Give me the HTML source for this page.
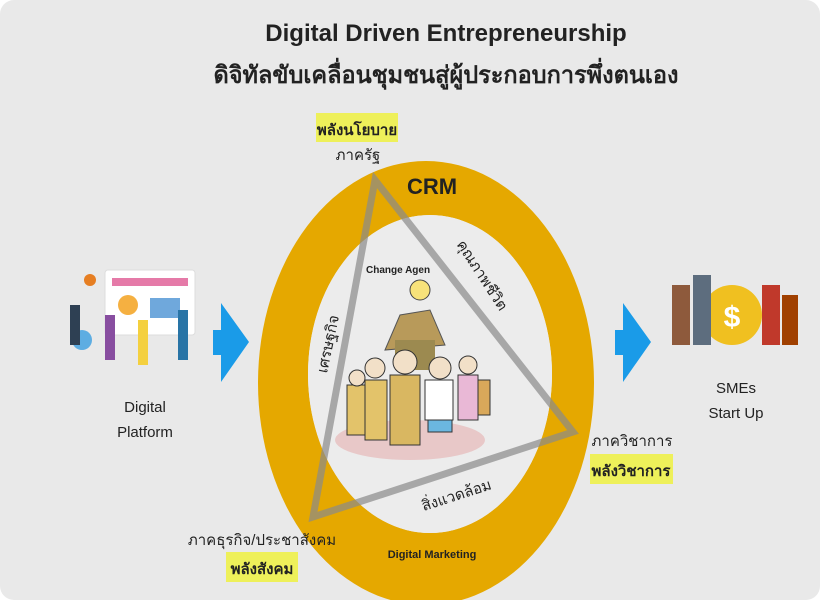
<!DOCTYPE html>
<html><head><meta charset="utf-8"><style>
html,body{margin:0;padding:0;background:#fff;}
.wrap{width:820px;height:600px;position:relative;background:#e9e9e9;border-radius:14px;overflow:hidden;font-family:"Liberation Sans","Noto Sans CJK SC",sans-serif;}
</style></head><body><div class="wrap">
<svg width="820" height="600" xmlns="http://www.w3.org/2000/svg" style="position:absolute;left:0;top:0">
<text x="446" y="41" text-anchor="middle" font-family="Liberation Sans, sans-serif" font-size="24" font-weight="bold" fill="#222">Digital Driven Entrepreneurship</text>
<text x="446" y="83" text-anchor="middle" font-family="Liberation Sans, Noto Sans CJK SC, sans-serif" font-size="24" font-weight="bold" fill="#222" textLength="465" lengthAdjust="spacingAndGlyphs">ดิจิทัลขับเคลื่อนชุมชนสู่ผู้ประกอบการพึ่งตนเอง</text>
<path fill="#e5a800" fill-rule="evenodd" d="M258,383 a168,222 0 1,0 336,0 a168,222 0 1,0 -336,0 Z M308,374 a122,159 0 1,0 244,0 a122,159 0 1,0 -244,0 Z"/>
<ellipse cx="430" cy="374" rx="122" ry="159" fill="#ececec"/>
<circle cx="420" cy="290" r="10" fill="#f7e27a" stroke="#444"/>
<path d="M385,350 L400,315 L430,310 L445,345 Z" fill="#b89a5a" stroke="#555"/>
<rect x="395" y="340" width="40" height="30" fill="#9c8a50"/>
<ellipse cx="410" cy="440" rx="75" ry="20" fill="#e8c8c8"/>
<g stroke="#333" stroke-width="1">
<rect x="347" y="385" width="20" height="50" fill="#e3c36a"/>
<rect x="365" y="380" width="22" height="60" fill="#e3c36a"/>
<rect x="390" y="375" width="30" height="70" fill="#d9b761"/>
<rect x="425" y="380" width="28" height="40" fill="#fff"/>
<rect x="428" y="420" width="24" height="12" fill="#6bb7e0"/>
<rect x="458" y="375" width="20" height="45" fill="#e9b8d6"/>
<rect x="478" y="380" width="12" height="35" fill="#d9a85a"/>
</g>
<circle cx="357" cy="378" r="8" fill="#f2e0c8" stroke="#333"/>
<circle cx="375" cy="368" r="10" fill="#f2e0c8" stroke="#333"/>
<circle cx="405" cy="362" r="12" fill="#f2e0c8" stroke="#333"/>
<circle cx="440" cy="368" r="11" fill="#f2e0c8" stroke="#333"/>
<circle cx="468" cy="365" r="9" fill="#f2e0c8" stroke="#333"/>
<polygon points="375,180 573,432 313,517" fill="none" stroke="#8a8a8a" stroke-opacity="0.7" stroke-width="7" stroke-linejoin="miter"/>
<text x="432" y="194" text-anchor="middle" font-size="22" font-weight="bold" fill="#222">CRM</text>
<text x="366" y="273" font-size="10" font-weight="bold" fill="#222">Change Agen</text>
<text x="432" y="558" text-anchor="middle" font-size="11" font-weight="bold" fill="#222">Digital Marketing</text>
<text transform="translate(333,345) rotate(-78)" text-anchor="middle" font-size="15" fill="#222">เศรษฐกิจ</text>
<text transform="translate(478,278) rotate(57)" text-anchor="middle" font-size="15" fill="#222">คุณภาพชีวิต</text>
<text transform="translate(458,500) rotate(-18)" text-anchor="middle" font-size="15" fill="#222">สิ่งแวดล้อม</text>
<rect x="316" y="113" width="82" height="29" fill="#eef05a"/>
<text x="357" y="135" text-anchor="middle" font-size="15" font-weight="bold" fill="#222">พลังนโยบาย</text>
<text x="358" y="160" text-anchor="middle" font-size="15" fill="#222">ภาครัฐ</text>
<text x="632" y="446" text-anchor="middle" font-size="15" fill="#222">ภาควิชาการ</text>
<rect x="590" y="454" width="83" height="30" fill="#eef05a"/>
<text x="631" y="476" text-anchor="middle" font-size="15" font-weight="bold" fill="#222">พลังวิชาการ</text>
<text x="262" y="545" text-anchor="middle" font-size="15" fill="#222">ภาคธุรกิจ/ประชาสังคม</text>
<rect x="226" y="552" width="72" height="30" fill="#eef05a"/>
<text x="262" y="574" text-anchor="middle" font-size="15" font-weight="bold" fill="#222">พลังสังคม</text>
<polygon points="213,330 221,330 221,303 249,342 221,382 221,355 213,355" fill="#1a9be8"/>
<polygon points="615,330 623,330 623,303 651,342 623,382 623,355 615,355" fill="#1a9be8"/>
<rect x="105" y="270" width="90" height="65" rx="3" fill="#fff" stroke="#ddd"/>
<rect x="112" y="278" width="76" height="8" fill="#e57aa8"/>
<circle cx="128" cy="305" r="10" fill="#f5b041"/>
<rect x="150" y="298" width="30" height="20" fill="#6fa8dc"/>
<circle cx="90" cy="280" r="6" fill="#e67e22"/>
<circle cx="82" cy="340" r="10" fill="#5dade2"/>
<rect x="70" y="305" width="10" height="40" fill="#2e4053"/>
<rect x="105" y="315" width="10" height="45" fill="#884ea0"/>
<rect x="138" y="320" width="10" height="45" fill="#f4d03f"/>
<rect x="178" y="310" width="10" height="50" fill="#2874a6"/>
<text x="145" y="412" text-anchor="middle" font-size="15" fill="#222">Digital</text>
<text x="145" y="437" text-anchor="middle" font-size="15" fill="#222">Platform</text>
<circle cx="732" cy="315" r="30" fill="#f0c020"/>
<text x="732" y="327" text-anchor="middle" font-size="30" font-weight="bold" fill="#fff">$</text>
<rect x="672" y="285" width="18" height="60" fill="#8e5a3c"/>
<rect x="693" y="275" width="18" height="70" fill="#5d6d7e"/>
<rect x="762" y="285" width="18" height="60" fill="#c0392b"/>
<rect x="782" y="295" width="16" height="50" fill="#a04000"/>
<text x="736" y="393" text-anchor="middle" font-size="15" fill="#222">SMEs</text>
<text x="736" y="418" text-anchor="middle" font-size="15" fill="#222">Start Up</text>
</svg></div></body></html>
